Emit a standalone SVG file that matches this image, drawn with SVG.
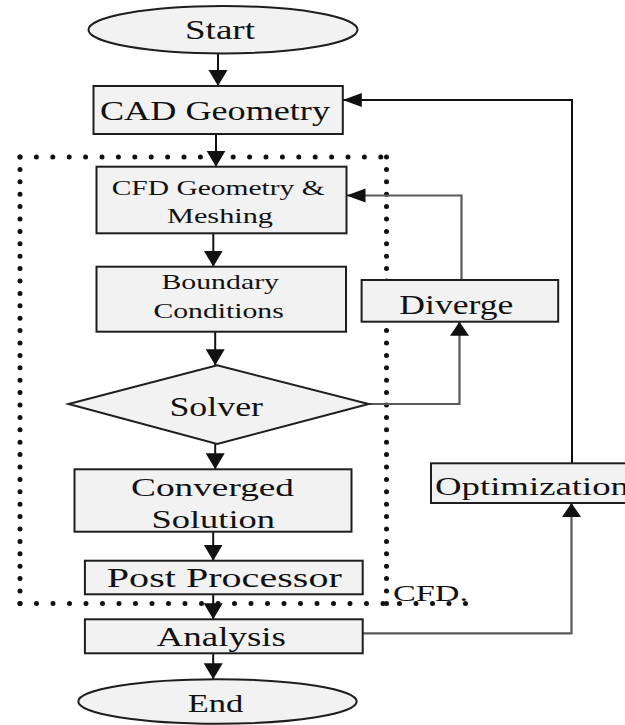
<svg xmlns="http://www.w3.org/2000/svg" width="625" height="725" viewBox="0 0 625 725">
<defs>
<style>
.box{fill:#f2f2f2;stroke:#1e1e1e;stroke-width:2}
.t{font-family:"Liberation Serif","Times New Roman",serif;fill:#111}
.c{fill:none;stroke:#111;stroke-width:2}
.g{fill:none;stroke:#5a5a5a;stroke-width:2.2}
.dot{fill:none;stroke:#111;stroke-width:5;stroke-linecap:round}
</style>
<marker id="arrV" markerUnits="userSpaceOnUse" markerWidth="18" markerHeight="20" refX="16" refY="9.5" orient="auto">
<path d="M0,0 L16,9.5 L0,19 z" fill="#111"/>
</marker>
<marker id="arrH" markerUnits="userSpaceOnUse" markerWidth="20" markerHeight="15" refX="19" refY="7" orient="auto">
<path d="M0,0 L19,7 L0,14 z" fill="#111"/>
</marker>
<marker id="arrU" markerUnits="userSpaceOnUse" markerWidth="15" markerHeight="20" refX="14" refY="9.5" orient="auto">
<path d="M0,0 L14,9.5 L0,19 z" fill="#111"/>
</marker>
</defs>
<rect width="625" height="725" fill="#ffffff"/>

<g id="cfd-region">
<line class="dot" x1="20" y1="157" x2="386.5" y2="157" stroke-dasharray="0 16.4"/>
<line class="dot" x1="20" y1="157" x2="20" y2="603.5" stroke-dasharray="0 12.4"/>
<line class="dot" x1="386.5" y1="157" x2="386.5" y2="603.5" stroke-dasharray="0 12.4"/>
<line class="dot" x1="20" y1="603.5" x2="466" y2="603.5" stroke-dasharray="0 16.5"/>
<text class="t" x="393" y="601" font-size="24" textLength="75" lengthAdjust="spacingAndGlyphs">CFD.</text>
</g>

<g id="connectors">
<path class="c" d="M218,53.3 V86" marker-end="url(#arrV)"/>
<path class="c" d="M216,134 V166.7" marker-end="url(#arrV)"/>
<path class="c" d="M213.3,233.3 V266.7" marker-end="url(#arrV)"/>
<path class="c" d="M215.2,331.7 V365.3" marker-end="url(#arrV)"/>
<path class="c" d="M215.2,444 V469.3" marker-end="url(#arrV)"/>
<path class="c" d="M213.2,531.7 V560.7" marker-end="url(#arrV)"/>
<path class="c" d="M213.2,594.3 V619.3" marker-end="url(#arrV)"/>
<path class="c" d="M213.2,653.3 V679.3" marker-end="url(#arrV)"/>
<path class="g" d="M368.7,404 H459.5 V321.7" marker-end="url(#arrU)"/>
<path class="g" d="M461.5,280 V195.5 H346.5" marker-end="url(#arrH)"/>
<path class="g" d="M362.7,633.3 H571.5 V503" marker-end="url(#arrU)"/>
<path class="c" d="M572,463.3 V100 H342.8" marker-end="url(#arrH)"/>
</g>

<g id="start">
<ellipse class="box" cx="223" cy="29.7" rx="134.5" ry="23.7"/>
<text class="t" x="185" y="39.3" font-size="28" textLength="70" lengthAdjust="spacingAndGlyphs">Start</text>
</g>

<g id="cad-geometry">
<rect class="box" x="93.5" y="86" width="249.3" height="48"/>
<text class="t" x="100" y="120" font-size="27" textLength="230" lengthAdjust="spacingAndGlyphs">CAD Geometry</text>
</g>

<g id="cfd-geometry">
<rect class="box" x="96.5" y="166.7" width="250" height="66.6"/>
<text class="t" x="111.7" y="195" font-size="22" textLength="213" lengthAdjust="spacingAndGlyphs">CFD Geometry &amp;</text>
<text class="t" x="167" y="223" font-size="22" textLength="106" lengthAdjust="spacingAndGlyphs">Meshing</text>
</g>

<g id="boundary-conditions">
<rect class="box" x="96.5" y="266.7" width="249.5" height="65"/>
<text class="t" x="161.4" y="289.3" font-size="21" textLength="117.6" lengthAdjust="spacingAndGlyphs">Boundary</text>
<text class="t" x="153.4" y="318.3" font-size="21" textLength="130.4" lengthAdjust="spacingAndGlyphs">Conditions</text>
</g>

<g id="solver">
<polygon class="box" points="68.6,404 217.2,365.3 368.7,404 217.2,444"/>
<text class="t" x="169.4" y="416" font-size="27" textLength="93.6" lengthAdjust="spacingAndGlyphs">Solver</text>
</g>

<g id="diverge">
<rect class="box" x="361.6" y="280" width="196.6" height="41.7"/>
<text class="t" x="399.3" y="313.5" font-size="27" textLength="114" lengthAdjust="spacingAndGlyphs">Diverge</text>
</g>

<g id="converged-solution">
<rect class="box" x="74.5" y="469.3" width="277" height="62.4"/>
<text class="t" x="131" y="496" font-size="26" textLength="163" lengthAdjust="spacingAndGlyphs">Converged</text>
<text class="t" x="151.5" y="527.5" font-size="26" textLength="123.5" lengthAdjust="spacingAndGlyphs">Solution</text>
</g>

<g id="optimization">
<rect class="box" x="431" y="463.3" width="215" height="39.7"/>
<text class="t" x="435" y="495" font-size="25" textLength="194" lengthAdjust="spacingAndGlyphs">Optimization</text>
</g>

<g id="post-processor">
<rect class="box" x="84.9" y="560.7" width="277.8" height="33.6"/>
<text class="t" x="106.8" y="586.7" font-size="27" textLength="235" lengthAdjust="spacingAndGlyphs">Post Processor</text>
</g>

<g id="analysis">
<rect class="box" x="84.9" y="619.3" width="277.8" height="34"/>
<text class="t" x="156.6" y="645.7" font-size="27" textLength="129.4" lengthAdjust="spacingAndGlyphs">Analysis</text>
</g>

<g id="end">
<ellipse class="box" cx="217.5" cy="701.5" rx="139.2" ry="22.2"/>
<text class="t" x="187.7" y="711.7" font-size="25" textLength="55.6" lengthAdjust="spacingAndGlyphs">End</text>
</g>
</svg>
